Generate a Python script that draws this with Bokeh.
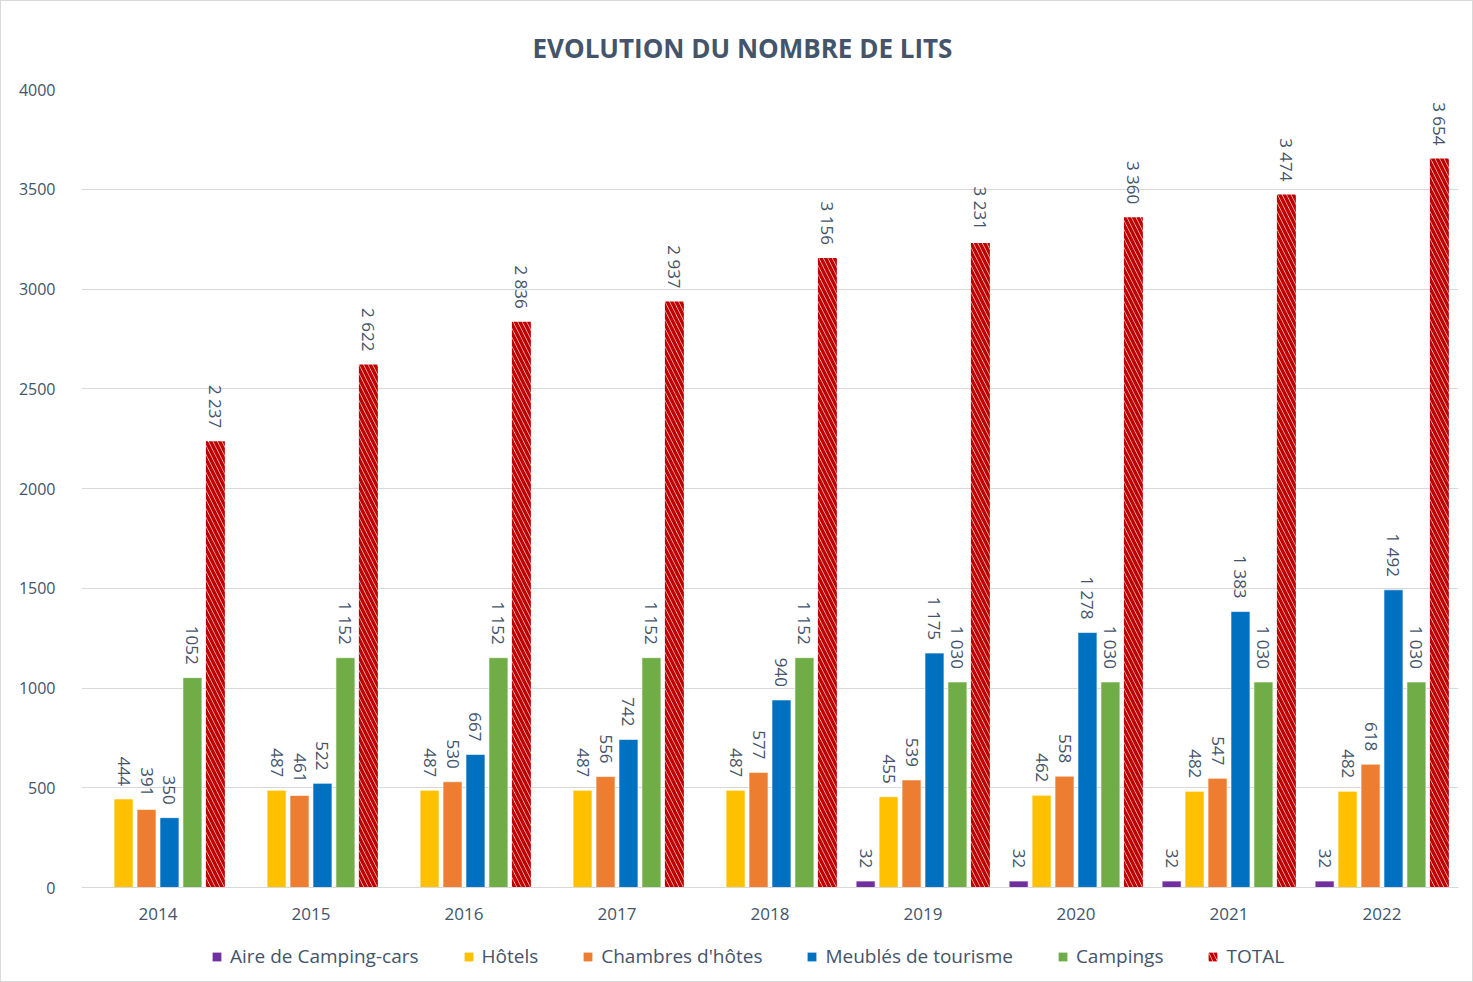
import math
from bokeh.plotting import figure
from bokeh.layouts import column
from bokeh.models import ColumnDataSource, Legend, LegendItem, FactorRange, SingleIntervalTicker
from bokeh.transform import dodge
from bokeh.core.properties import value
from bokeh.embed import file_html
from bokeh.resources import INLINE

NAN = float("nan")
years = ["2014", "2015", "2016", "2017", "2018", "2019", "2020", "2021", "2022"]
aire = [NAN, NAN, NAN, NAN, NAN, 32, 32, 32, 32]
hotels = [444, 487, 487, 487, 487, 455, 462, 482, 482]
chambres = [391, 461, 530, 556, 577, 539, 558, 547, 618]
meubles = [350, 522, 667, 742, 940, 1175, 1278, 1383, 1492]
campings = [1052, 1152, 1152, 1152, 1152, 1030, 1030, 1030, 1030]
campings_labels = ["1052", "1 152", "1 152", "1 152", "1 152", "1 030", "1 030", "1 030", "1 030"]
total = [2237, 2622, 2836, 2937, 3156, 3231, 3360, 3474, 3654]

names = ["Aire de Camping-cars", "Hôtels", "Chambres d'hôtes", "Meublés de tourisme", "Campings", "TOTAL"]
colors = ["#7030A0", "#FFC000", "#ED7D31", "#0070C0", "#70AD47", "#C00000"]
offsets = [-0.375, -0.225, -0.075, 0.075, 0.225, 0.375]


def fmt(v):
    if v is None or (isinstance(v, float) and math.isnan(v)):
        return ""
    return f"{int(v):,}".replace(",", " ")


series = [
    (aire, [fmt(v) for v in aire]),
    (hotels, [fmt(v) for v in hotels]),
    (chambres, [fmt(v) for v in chambres]),
    (meubles, [fmt(v) for v in meubles]),
    (campings, campings_labels),
    (total, [fmt(v) for v in total]),
]

FONT = "Open Sans"
TXT = "#44546A"
HATCH = dict(hatch_pattern="\\", hatch_scale=9, hatch_weight=3.5)

p = figure(
    frame_width=1377, frame_height=798,
    x_range=FactorRange(*years), y_range=(0, 4000),
    output_backend="svg", toolbar_location=None,
    min_border_left=80, min_border_right=14, min_border_top=88, min_border_bottom=40,
)

p.title.text = "EVOLUTION DU NOMBRE DE LITS"
p.title.text_font = FONT
p.title.text_font_size = "26px"
p.title.text_font_style = "bold"
p.title.text_color = TXT
p.title.align = "left"
p.title.offset = 451
p.title.standoff = 47

p.outline_line_color = None
p.xgrid.grid_line_color = None
p.ygrid.grid_line_color = "#D9D9D9"
p.ygrid.grid_line_width = 1

p.yaxis.ticker = SingleIntervalTicker(interval=500)
p.yaxis.axis_line_color = None
p.yaxis.major_tick_line_color = None
p.yaxis.minor_tick_line_color = None
p.yaxis.major_label_standoff = 20
p.yaxis.major_label_text_font = FONT
p.yaxis.major_label_text_font_size = "16px"
p.yaxis.major_label_text_color = TXT

p.xaxis.axis_line_color = "#D9D9D9"
p.xaxis.major_tick_line_color = None
p.xaxis.minor_tick_line_color = None
p.xaxis.major_tick_out = 0
p.xaxis.major_label_standoff = 20
p.xaxis.major_label_text_font = FONT
p.xaxis.major_label_text_font_size = "17px"
p.xaxis.major_label_text_color = TXT

for (vals, labels), name, col, off in zip(series, names, colors, offsets):
    src = ColumnDataSource(dict(year=years, v=vals, lab=labels))
    xt = dodge("year", off, range=p.x_range)
    if name == "TOTAL":
        p.vbar(x=xt, top="v", width=0.124, source=src, fill_color="white",
               line_color=None, hatch_color=col, **HATCH)
    else:
        p.vbar(x=xt, top="v", width=0.124, source=src, fill_color=col,
               line_color="white", line_width=0.6)
    p.text(x=xt, y="v", text="lab", source=src, angle=-math.pi / 2,
           text_align="right", text_baseline="middle", y_offset=-13,
           text_font=value(FONT), text_font_size="17px", text_color=TXT)

# legend strip below the chart (its frame is aligned with the main frame by the column)
lg = figure(width=1471, height=54, x_range=(0, 1), y_range=(0, 1),
            output_backend="svg", toolbar_location=None,
            min_border_left=0, min_border_right=0, min_border_top=0, min_border_bottom=0)
lg.axis.visible = False
lg.grid.visible = False
lg.outline_line_color = None
items = []
for name, col in zip(names, colors):
    # off-range placeholder so that only the legend swatch shows
    if name == "TOTAL":
        r = lg.vbar(x=[-5], top=[0], width=0.1, fill_color="white", line_color=None,
                    hatch_color=col, **HATCH)
    else:
        r = lg.vbar(x=[-5], top=[0], width=0.1, fill_color=col, line_color=None)
    items.append(LegendItem(label=name, renderers=[r]))

legend = Legend(items=items, orientation="horizontal", location=(130, 12),
                label_text_font=FONT, label_text_font_size="19px", label_text_color=TXT,
                glyph_width=11, glyph_height=11, label_standoff=8, spacing=44,
                label_height=24, border_line_color=None, background_fill_alpha=0,
                padding=0, margin=0)
lg.add_layout(legend, "center")

layout = column(p, lg, spacing=0, styles={"border": "1px solid #D9D9D9"})

open("out.html", "w").write(file_html(layout, INLINE))
